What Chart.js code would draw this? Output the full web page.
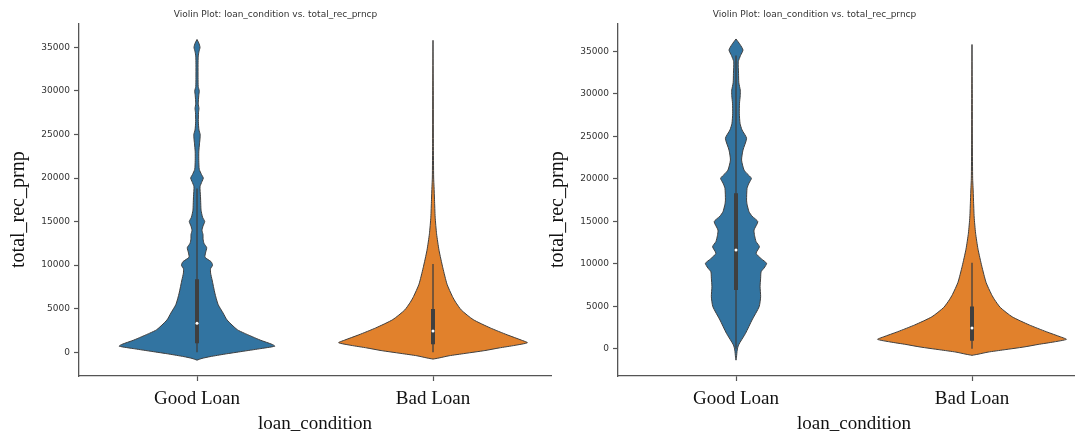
<!DOCTYPE html>
<html lang="en">
<head>
    <meta charset="UTF-8">
    <title>Violin Plot: loan_condition vs. total_rec_prncp</title>
    <script src="https://cdn.jsdelivr.net/npm/chart.js@4.4.1/dist/chart.umd.min.js"></script>
    <style>
        * { margin: 0; padding: 0; box-sizing: border-box; }
        body {
            width: 1075px;
            height: 434px;
            overflow: hidden;
            background: #fff;
            position: relative;
        }
        canvas {
            position: absolute;
            top: 0;
        }
        #leftChart { left: 0; }
        #rightChart { left: 539px; }
    </style>
</head>
<body>
    <canvas id="leftChart" width="630" height="434"></canvas>
    <canvas id="rightChart" width="630" height="434"></canvas>

    <script>
        // Categories and tick labels
        const categories = ['Good Loan', 'Bad Loan'];
        const yTicks = [0, 5000, 10000, 15000, 20000, 25000, 30000, 35000];

        // Density profiles (value, relative density)
        const leftGoodValues = [-900, -700, -500, -200, 100, 400, 700, 900, 1400, 2200, 2600, 3700, 4500, 5500, 6800,
            8300, 9100, 9600, 10000, 10400, 10900, 11400, 12000, 12500, 13000, 13500, 14000, 14500, 15000, 15500,
            16300, 17000, 17900, 19000, 19600, 20000, 20400, 21000, 22000, 23000, 24000, 24500, 25000, 25500,
            26500, 27500, 28000, 28500, 29500, 30000, 30500, 31500, 33000, 34000, 34500, 35000, 35500, 35900];
        const leftGoodDensity = [0, 0.053, 0.138, 0.298, 0.479, 0.66, 0.824, 0.798, 0.67, 0.5, 0.426, 0.319, 0.277, 0.223, 0.189,
            0.16, 0.144, 0.144, 0.165, 0.149, 0.085, 0.09, 0.103, 0.074, 0.064, 0.064, 0.053, 0.064, 0.082, 0.059,
            0.043, 0.04, 0.037, 0.032, 0.053, 0.067, 0.048, 0.024, 0.019, 0.019, 0.027, 0.032, 0.034, 0.021,
            0.014, 0.016, 0.021, 0.013, 0.019, 0.024, 0.013, 0.011, 0.011, 0.013, 0.021, 0.032, 0.019, 0];

        const rightGoodValues = [-1350, -1000, -150, 435, 1810, 3380, 4940, 6120, 7300, 8300, 9060, 9500, 10050, 10600,
            11230, 12000, 12600, 13300, 13970, 14950, 15600, 16120, 17000, 17500, 18870, 19500, 20050, 20600, 21030,
            22200, 23380, 24760, 25740, 26500, 27700, 28880, 29800, 30440, 31300, 32400, 33770, 34500, 35150, 35800, 36450];
        const rightGoodDensity = [0, 0.005, 0.013, 0.027, 0.101, 0.17, 0.245, 0.261, 0.255, 0.261, 0.266, 0.298, 0.324, 0.266,
            0.213, 0.248, 0.213, 0.197, 0.191, 0.231, 0.17, 0.138, 0.117, 0.112, 0.117, 0.138, 0.163, 0.117, 0.085,
            0.059, 0.074, 0.112, 0.064, 0.043, 0.035, 0.037, 0.045, 0.045, 0.03, 0.027, 0.024, 0.048, 0.074, 0.043, 0];

        const badValues = [-780, -650, -400, -130, 200, 500, 800, 1100, 1400, 2000, 2800, 3750, 4850, 5750, 6400,
            7800, 9700, 11700, 13600, 15500, 17500, 19000, 20000, 24000, 30000, 35800];
        const badDensity = [0, 0.064, 0.17, 0.34, 0.55, 0.70, 0.87, 1.0, 0.936, 0.787, 0.606, 0.426, 0.3, 0.24, 0.206,
            0.149, 0.104, 0.064, 0.038, 0.023, 0.016, 0.011, 0.007, 0.004, 0.003, 0];

        // Inner box stats: [whisker low, q1, median, q3, whisker high]
        const leftGoodBox = [0, 1030, 3330, 8380, 18800];
        const rightGoodBox = [0, 6900, 11610, 18290, 34500];
        const badBox = [0, 930, 2450, 4980, 10125];

        // Axis ranges
        const leftYRange = [-2720, 37754];
        const rightYRange = [-3213, 38295];

        const HALF_WIDTH = 0.4;
        const colors = ['#3274a1', '#e1812c'];
        const edgeColor = '#3f3f3f';
        const yTitle = 'total_rec_prnp';

        function violinPoints(center, values, density) {
            const pts = [];
            for (let i = 0; i < values.length; i++) {
                pts.push({ x: center - density[i] * HALF_WIDTH, y: values[i] });
            }
            for (let i = values.length - 1; i >= 0; i--) {
                pts.push({ x: center + density[i] * HALF_WIDTH, y: values[i] });
            }
            return pts;
        }

        function violinDatasets(center, values, density, box, color) {
            return [
                {
                    data: violinPoints(center, values, density),
                    showLine: true,
                    fill: 'shape',
                    backgroundColor: color,
                    borderColor: edgeColor,
                    borderWidth: 1,
                    pointRadius: 0,
                    tension: 0.2,
                    order: 3
                },
                {
                    data: [{ x: center, y: box[0] }, { x: center, y: box[4] }],
                    showLine: true,
                    borderColor: edgeColor,
                    borderWidth: 1.3,
                    pointRadius: 0,
                    order: 2
                },
                {
                    data: [{ x: center, y: box[1] }, { x: center, y: box[3] }],
                    showLine: true,
                    borderColor: edgeColor,
                    borderWidth: 4,
                    borderCapStyle: 'butt',
                    pointRadius: 0,
                    order: 1
                },
                {
                    data: [{ x: center, y: box[2] }],
                    pointRadius: 1.5,
                    pointBorderWidth: 0,
                    backgroundColor: '#ffffff',
                    order: 0
                }
            ];
        }

        // y axis label, drawn a little below the plot centre like the original
        const yTitlePlugin = {
            id: 'yTitle',
            afterDraw(chart) {
                const ctx = chart.ctx;
                const area = chart.chartArea;
                ctx.save();
                ctx.translate(19, (area.top + area.bottom) / 2 + 10);
                ctx.rotate(-Math.PI / 2);
                ctx.font = '20px "Liberation Serif"';
                ctx.fillStyle = '#111';
                ctx.textAlign = 'center';
                ctx.textBaseline = 'middle';
                ctx.fillText(yTitle, 0, 0);
                ctx.restore();
            }
        };

        function makeChart(id, goodValues, goodDensity, goodBox, yRange) {
            const axisColor = '#555';
            return new Chart(document.getElementById(id), {
                type: 'scatter',
                data: {
                    datasets: [
                        ...violinDatasets(0, goodValues, goodDensity, goodBox, colors[0]),
                        ...violinDatasets(1, badValues, badDensity, badBox, colors[1])
                    ]
                },
                plugins: [yTitlePlugin],
                options: {
                    responsive: false,
                    animation: false,
                    layout: { padding: { left: 0, right: 79, top: 0, bottom: 0 } },
                    plugins: {
                        legend: { display: false },
                        tooltip: { enabled: false },
                        title: {
                            display: true,
                            text: 'Violin Plot: loan_condition vs. total_rec_prncp',
                            color: '#333',
                            font: { family: 'DejaVu Sans', size: 9, weight: 'normal' },
                            padding: { top: 9, bottom: 3.5 }
                        }
                    },
                    scales: {
                        x: {
                            type: 'linear',
                            min: -0.5,
                            max: 1.5,
                            afterBuildTicks: scale => {
                                scale.ticks = categories.map((c, i) => ({ value: i }));
                            },
                            afterFit: scale => { scale.height = 58; },
                            ticks: {
                                callback: value => categories[value],
                                color: '#111',
                                font: { family: 'Liberation Serif', size: 19 },
                                padding: 7,
                                maxRotation: 0
                            },
                            grid: {
                                drawOnChartArea: false,
                                drawTicks: true,
                                tickLength: 5,
                                tickColor: axisColor,
                                tickWidth: 1.2
                            },
                            border: { display: true, color: axisColor, width: 1.3 },
                            title: {
                                display: true,
                                text: 'loan_condition',
                                color: '#111',
                                font: { family: 'Liberation Serif', size: 19, lineHeight: 1.0 },
                                padding: { top: 0, bottom: 0 }
                            }
                        },
                        y: {
                            min: yRange[0],
                            max: yRange[1],
                            afterBuildTicks: scale => {
                                scale.ticks = yTicks.map(v => ({ value: v }));
                            },
                            afterFit: scale => { scale.width = 79; },
                            ticks: {
                                callback: value => String(value),
                                color: '#333',
                                font: { family: 'DejaVu Sans', size: 9 },
                                padding: 4
                            },
                            grid: {
                                drawOnChartArea: false,
                                drawTicks: true,
                                tickLength: 5,
                                tickColor: axisColor,
                                tickWidth: 1.2
                            },
                            border: { display: true, color: axisColor, width: 1.3 }
                        }
                    }
                }
            });
        }

        makeChart('leftChart', leftGoodValues, leftGoodDensity, leftGoodBox, leftYRange);
        makeChart('rightChart', rightGoodValues, rightGoodDensity, rightGoodBox, rightYRange);
    </script>
</body>
</html>
